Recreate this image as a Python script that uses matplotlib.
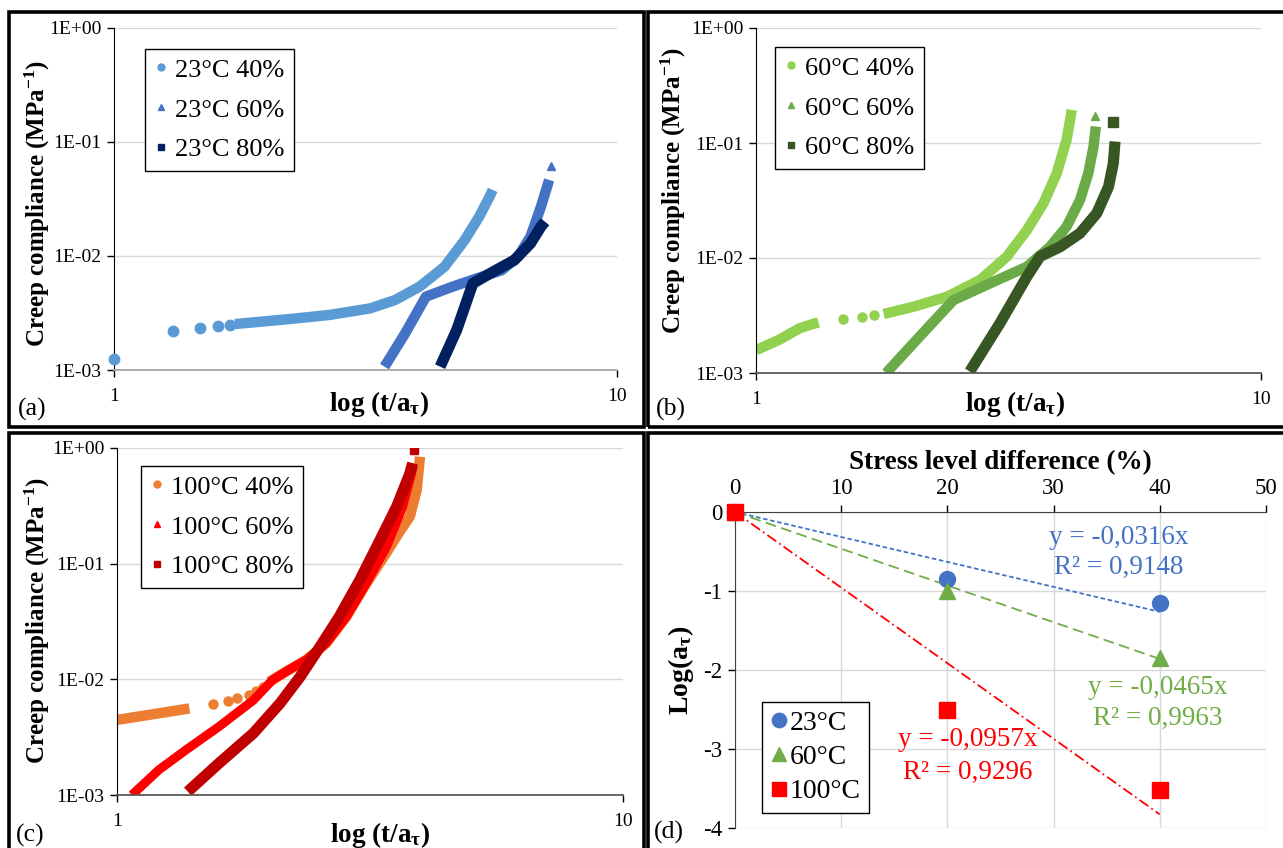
import matplotlib.pyplot as plt
from matplotlib.lines import Line2D
from matplotlib.patches import Rectangle
import numpy as np

plt.rcParams['font.family'] = ['Liberation Serif', 'DejaVu Serif']
plt.rcParams['mathtext.default'] = 'regular'
plt.rcParams['axes.unicode_minus'] = False

# ---- (a) 23 °C ----
a40_dots_x = [1.0, 1.31, 1.48, 1.61, 1.70]
a40_dots_y = [1.26e-3, 2.19e-3, 2.34e-3, 2.44e-3, 2.5e-3]
a40_x = [1.74, 2.22, 2.68, 3.23, 3.62, 4.05, 4.54, 4.98, 5.32, 5.58, 5.66]
a40_y = [2.53e-3, 2.79e-3, 3.04e-3, 3.47e-3, 4.11e-3, 5.38e-3, 8.05e-3, 1.38e-2, 2.21e-2, 3.31e-2, 3.8e-2]
a60_x = [3.45, 3.79, 4.17, 4.71, 5.27, 5.90, 6.36, 6.73, 7.06, 7.33]
a60_y = [1.07e-3, 2.09e-3, 4.4e-3, 5.38e-3, 6.37e-3, 7.5e-3, 9.9e-3, 1.48e-2, 2.71e-2, 4.65e-2]
a60_tip = (7.38, 6.1e-2)
a80_x = [4.45, 4.80, 5.17, 5.68, 6.25, 6.73, 7.06, 7.19]
a80_y = [1.07e-3, 2.24e-3, 5.76e-3, 7.3e-3, 9.2e-3, 1.29e-2, 1.81e-2, 2.0e-2]

# ---- (b) 60 °C ----
b40_head_x = [1.0, 1.11, 1.22, 1.30, 1.33]
b40_head_y = [1.58e-3, 1.94e-3, 2.45e-3, 2.68e-3, 2.75e-3]
b40_dots_x = [1.49, 1.62, 1.71]
b40_dots_y = [2.93e-3, 3.05e-3, 3.19e-3]
b40_x = [1.79, 2.05, 2.39, 2.78, 3.14, 3.44, 3.71, 3.94, 4.12, 4.22]
b40_y = [3.26e-3, 3.77e-3, 4.61e-3, 6.45e-3, 1.03e-2, 1.75e-2, 3.0e-2, 5.45e-2, 1.06e-1, 1.94e-1]
b60_x = [1.81, 2.11, 2.46, 2.91, 3.44, 3.82, 4.12, 4.38, 4.55, 4.66, 4.71]
b60_y = [1.0e-3, 2.08e-3, 4.3e-3, 6.03e-3, 8.4e-3, 1.25e-2, 1.87e-2, 3.19e-2, 5.45e-2, 9.3e-2, 1.39e-1]
b60_tip = (4.69, 1.7e-1)
b80_x = [2.65, 3.04, 3.44, 3.65, 4.0, 4.38, 4.73, 4.99, 5.10, 5.14]
b80_y = [1.03e-3, 2.7e-3, 6.9e-3, 1.03e-2, 1.25e-2, 1.64e-2, 2.45e-2, 4.17e-2, 6.66e-2, 1.03e-1]
b80_tip = (5.10, 1.53e-1)

# ---- (c) 100 °C ----
c40_head_x = [1.0, 1.18, 1.39]
c40_head_y = [4.46e-3, 5.0e-3, 5.6e-3]
c40_dots_x = [1.55, 1.66, 1.73, 1.82, 1.88, 1.94]
c40_dots_y = [6.1e-3, 6.5e-3, 6.9e-3, 7.3e-3, 8.0e-3, 8.6e-3]
c40_x = [2.0, 2.16, 2.37, 2.59, 2.84, 3.11, 3.41, 3.62, 3.79, 3.91, 3.97]
c40_y = [9.5e-3, 1.17e-2, 1.48e-2, 2.05e-2, 3.48e-2, 6.76e-2, 1.25e-1, 1.9e-1, 2.55e-1, 4.3e-1, 8.4e-1]
c60_x = [1.07, 1.21, 1.37, 1.59, 1.86, 2.03, 2.16, 2.37, 2.59, 2.84, 3.11, 3.41, 3.67, 3.85]
c60_y = [1.0e-3, 1.65e-3, 2.46e-3, 3.9e-3, 6.6e-3, 9.9e-3, 1.17e-2, 1.48e-2, 2.05e-2, 3.48e-2,
         6.76e-2, 1.4e-1, 3.11e-1, 6.9e-1]
c80_x = [1.38, 1.59, 1.86, 2.10, 2.30, 2.52, 2.75, 3.02, 3.31, 3.57, 3.79, 3.84]
c80_y = [1.07e-3, 1.88e-3, 3.42e-3, 6.2e-3, 1.05e-2, 1.92e-2, 3.48e-2, 7.23e-2, 1.6e-1, 3.11e-1, 6.0e-1, 7.4e-1]
c80_tip = (3.86, 9.6e-1)

# ---- (d) shift factors ----
stress = [0, 20, 40]
la_23 = [0, -0.85, -1.15]
la_60 = [0, -1.0, -1.85]
la_100 = [0, -2.5, -3.52]
slopes = [-0.0316, -0.0465, -0.0957]
r2 = ['0,9148', '0,9963', '0,9296']

W, H = 1283, 848
fig = plt.figure(figsize=(W / 100, H / 100), dpi=100)


def box(x0, y0, x1, y1):
    return [x0 / W, 1 - y1 / H, (x1 - x0) / W, (y1 - y0) / H]


def frame(x0, y0, x1, y1):
    fig.patches.append(Rectangle((x0 / W, 1 - y1 / H), (x1 - x0) / W, (y1 - y0) / H,
                                 transform=fig.transFigure, fill=False, lw=2.6, ec='black'))


def log_axes(ax):
    ax.set_xscale('log')
    ax.set_yscale('log')
    ax.set_xlim(1, 10)
    ax.set_ylim(1e-3, 1)
    ax.set_yticks([1e-3, 1e-2, 1e-1, 1])
    ax.set_yticklabels(['1E-03', '1E-02', '1E-01', '1E+00'])
    ax.set_xticks([1, 10])
    ax.set_xticklabels(['1', '10'])
    ax.minorticks_off()
    ax.tick_params(axis='y', length=5, width=1, labelsize=14, pad=4, direction='out')
    ax.tick_params(axis='x', length=5, width=1, labelsize=14, pad=8, direction='out')
    ax.grid(axis='y', color='#D9D9D9', lw=1)
    ax.set_axisbelow(True)
    for s in ['top', 'right']:
        ax.spines[s].set_visible(False)
    ax.spines['left'].set_color('black')
    ax.spines['bottom'].set_color('#595959')
    ax.spines['bottom'].set_linewidth(1.3)


def thick(ax, x, y, color, lw=7.5):
    ax.plot(x, y, color=color, lw=lw, solid_capstyle='butt', solid_joinstyle='round')


def legend(ax, labels, markers, colors, x, y, ms=5):
    handles = [Line2D([], [], ls='none', marker=m, color=c, ms=ms) for m, c in zip(markers, colors)]
    lg = ax.legend(handles, labels, loc='upper left', bbox_to_anchor=(x / W, 1 - y / H),
                   bbox_transform=fig.transFigure, fontsize=19, frameon=True, fancybox=False,
                   edgecolor='black', framealpha=1, handlelength=0.5, handletextpad=0.3,
                   labelspacing=0.62, borderpad=0.35, borderaxespad=0)
    lg.get_frame().set_linewidth(1.0)


# ---------- (a) ----------
c1, c2, c3 = '#5B9BD5', '#4472C4', '#002060'
ax = fig.add_axes(box(114, 28, 617, 370))
log_axes(ax)
ax.spines['bottom'].set_color('#A6A6A6')
ax.plot(a40_dots_x, a40_dots_y, 'o', color=c1, ms=7.5, clip_on=False, zorder=3)
thick(ax, a40_x, a40_y, c1)
thick(ax, a60_x, a60_y, c2)
ax.plot(*a60_tip, '^', color=c2, ms=6)
thick(ax, a80_x, a80_y, c3, lw=8)
legend(ax, ['23°C 40%', '23°C 60%', '23°C 80%'], ['o', '^', 's'], [c1, c2, c3], 145, 49)

# ---------- (b) ----------
g1, g2, g3 = '#92D050', '#6AAB47', '#375623'
ax = fig.add_axes(box(756, 28, 1261, 373))
log_axes(ax)
thick(ax, b40_head_x, b40_head_y, g1)
ax.plot(b40_dots_x, b40_dots_y, 'o', color=g1, ms=6.5)
thick(ax, b40_x, b40_y, g1)
thick(ax, b60_x, b60_y, g2)
ax.plot(*b60_tip, '^', color=g2, ms=6)
thick(ax, b80_x, b80_y, g3, lw=8)
ax.plot(*b80_tip, 's', color=g3, ms=6.5)
legend(ax, ['60°C 40%', '60°C 60%', '60°C 80%'], ['o', '^', 's'], [g1, g2, g3], 775, 47)

# ---------- (c) ----------
r1, r2c, r3 = '#ED7D31', '#FF0000', '#C00000'
ax = fig.add_axes(box(117, 448, 623, 795))
log_axes(ax)
thick(ax, c40_head_x, c40_head_y, r1)
ax.plot(c40_dots_x, c40_dots_y, 'o', color=r1, ms=6.5)
thick(ax, c40_x, c40_y, r1)
thick(ax, c60_x, c60_y, r2c, lw=6.5)
thick(ax, c80_x, c80_y, r3, lw=8)
ax.plot(*c80_tip, 's', color=r3, ms=6)
legend(ax, ['100°C 40%', '100°C 60%', '100°C 80%'], ['o', '^', 's'], [r1, r2c, r3], 141, 466)

# axis labels for log panels
for cx, cy in [(37, 203), (673, 190), (37, 620)]:
    fig.text(cx / W, 1 - cy / H, 'Creep compliance (MPa$^{-1}$)', rotation=90, ha='center', va='center',
             fontsize=18, fontweight='bold')
for cx, cy in [(379, 404), (1015, 404), (380, 835)]:
    fig.text(cx / W, 1 - cy / H, 'log (t/a$_τ$)', ha='center', va='center', fontsize=19.5, fontweight='bold')
for t, cx, cy in [('(a)', 32, 409), ('(b)', 671, 409), ('(c)', 30, 835), ('(d)', 669, 832)]:
    fig.text(cx / W, 1 - cy / H, t, ha='center', va='center', fontsize=18.5)

# ---------- (d) ----------
ax = fig.add_axes(box(735, 512, 1266, 828))
ax.set_xlim(0, 50)
ax.set_ylim(-4, 0)
ax.xaxis.tick_top()
ax.xaxis.set_label_position('top')
ax.set_xticks([0, 10, 20, 30, 40, 50])
ax.set_yticks([0, -1, -2, -3, -4])
ax.tick_params(axis='both', labelsize=16.5, length=5, width=1)
ax.tick_params(axis='x', pad=4)
ax.tick_params(axis='y', pad=4)
ax.grid(color='#D9D9D9', lw=1)
ax.set_axisbelow(True)
for s in ['bottom', 'right']:
    ax.spines[s].set_visible(False)
ax.spines['top'].set_color('#404040')
ax.spines['left'].set_color('#404040')
ax.set_xlabel('Stress level difference (%)', fontsize=19.5, fontweight='bold', labelpad=7)
ax.set_ylabel('Log(a$_τ$)', fontsize=20, fontweight='bold', labelpad=5)

dcol = ['#4472C4', '#70AD47', '#FF0000']
dmark = ['o', '^', 's']
dls = [(0, (2.5, 1.5)), (0, (6, 3)), (0, (6, 2, 1, 2))]
xs = np.array([0, 40])
labs = ['23°C', '60°C', '100°C']
for k in range(3):
    ax.plot(xs, slopes[k] * xs, color=dcol[k], lw=1.3, ls=dls[k], zorder=2)
for k, vals in enumerate([la_23, la_60, la_100]):
    ax.plot(stress, vals, ls='none', marker=dmark[k], color=dcol[k], ms=11.5, label=labs[k],
            clip_on=False, zorder=3)

lg = ax.legend(loc='upper left', bbox_to_anchor=(762 / W, 1 - 702 / H), bbox_transform=fig.transFigure,
               fontsize=20, frameon=True, fancybox=False, edgecolor='black', framealpha=1,
               handlelength=0.6, handletextpad=0.1, labelspacing=0.32, borderpad=0.3,
               borderaxespad=0, markerscale=0.9)
lg.get_frame().set_linewidth(1.0)

eq_pos = [(1119, 537, 567), (1158, 687, 718), (968, 740, 772)]
for k, (px, py1, py2) in enumerate(eq_pos):
    s = ('%.4f' % slopes[k]).replace('.', ',')
    fig.text(px / W, 1 - py1 / H, 'y = %sx' % s, color=dcol[k], ha='center', va='center', fontsize=19.5)
    fig.text(px / W, 1 - py2 / H, 'R² = %s' % r2[k], color=dcol[k], ha='center', va='center', fontsize=19.5)

# panel frames
frame(9, 12, 644, 427)
frame(648, 12, 1290, 427)
frame(9, 433, 644, 852)
frame(648, 433, 1290, 852)

fig.savefig('out.png', dpi=100)
